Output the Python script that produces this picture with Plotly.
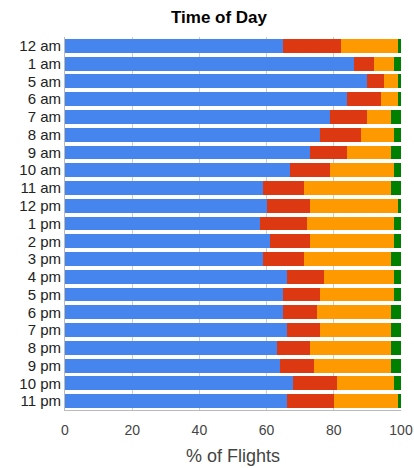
import plotly.graph_objects as go

hours = ["12 am", "1 am", "5 am", "6 am", "7 am", "8 am", "9 am", "10 am", "11 am",
         "12 pm", "1 pm", "2 pm", "3 pm", "4 pm", "5 pm", "6 pm", "7 pm", "8 pm",
         "9 pm", "10 pm", "11 pm"]
on_time = [65, 86, 90, 84, 79, 76, 73, 67, 59, 60, 58, 61, 59, 66, 65, 65, 66, 63, 64, 68, 66]
delayed_15 = [17, 6, 5, 10, 11, 12, 11, 12, 12, 13, 14, 12, 12, 11, 11, 10, 10, 10, 10, 13, 14]
delayed_60 = [17, 6, 4, 5, 7, 10, 13, 19, 26, 26, 26, 25, 26, 21, 22, 22, 21, 24, 23, 17, 19]
cancelled = [1, 2, 1, 1, 3, 2, 3, 2, 3, 1, 2, 2, 3, 2, 2, 3, 3, 3, 3, 2, 1]
x_ticks = [0, 20, 40, 60, 80, 100]

series = [
    ("On time", on_time, "#4684EE"),
    ("Delayed", delayed_15, "#DC3912"),
    ("Very delayed", delayed_60, "#FF9900"),
    ("Cancelled", cancelled, "#008000"),
]

fig = go.Figure()
for name, vals, color in series:
    fig.add_trace(go.Bar(y=hours, x=vals, name=name, orientation="h",
                         marker=dict(color=color, line=dict(width=0))))

fig.update_layout(
    barmode="stack",
    bargap=0.22,
    width=414, height=468,
    margin=dict(l=65, r=13, t=37, b=58),
    paper_bgcolor="white", plot_bgcolor="white",
    showlegend=False,
    font=dict(family="Liberation Sans, Arial, sans-serif", color="#222222"),
    title=dict(text="<b>Time of Day</b>", x=219 / 414, xanchor="center",
               y=1 - 17 / 468, yanchor="middle", font=dict(size=17, color="black")),
)
fig.update_xaxes(range=[0, 100], tickmode="array", tickvals=x_ticks,
                 showgrid=True, gridcolor="#CCCCCC", gridwidth=1,
                 showline=True, linecolor="#BBBBBB", linewidth=1,
                 zeroline=False, ticks="", automargin=False, ticklabelstandoff=7,
                 tickfont=dict(size=14, color="#444444"),
                 title=dict(text="% of Flights", font=dict(size=18, color="#444444"), standoff=12))
fig.update_yaxes(autorange="reversed", showgrid=False, automargin=False,
                 tickmode="array", tickvals=hours, ticktext=hours,
                 showline=True, linecolor="#BBBBBB", linewidth=1,
                 ticks="", tickfont=dict(size=15, color="#222222"), ticksuffix=" ")

fig.write_html("out.html", config={"displayModeBar": False},
               post_script="document.body.style.margin='0';")
